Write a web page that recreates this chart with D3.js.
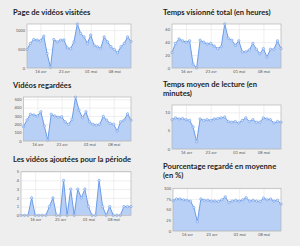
<!DOCTYPE html>
<html>
<head>
<meta charset="utf-8">
<script src="https://cdn.jsdelivr.net/npm/d3@7"></script>
<style>
  body { margin: 0; background: #eeeeee; }
  svg { display: block; }
  .title { font-family: Lato, sans-serif; font-weight: bold; font-size: 7.6px; fill: #1e1e1e; }
  .tick text { font-family: Lato, sans-serif; font-size: 4px; fill: #555; }
</style>
</head>
<body>
<div id="chart"></div>
<script>
// days shown on every chart
var dates = ["2014-04-12", "2014-04-13", "2014-04-14", "2014-04-15", "2014-04-16", "2014-04-17",
  "2014-04-18", "2014-04-19", "2014-04-20", "2014-04-21", "2014-04-22", "2014-04-23",
  "2014-04-24", "2014-04-25", "2014-04-26", "2014-04-27", "2014-04-28", "2014-04-29",
  "2014-04-30", "2014-05-01", "2014-05-02", "2014-05-03", "2014-05-04", "2014-05-05",
  "2014-05-06", "2014-05-07", "2014-05-08", "2014-05-09", "2014-05-10", "2014-05-11",
  "2014-05-12", "2014-05-13"];

var tickDates = ["2014-04-16", "2014-04-23", "2014-05-01", "2014-05-08"];
var tickLabels = ["16 avr", "23 avr", "01 mai", "08 mai"];

var pageViews = [490, 650, 750, 735, 720, 840, 380, 15, 750, 690, 735, 740, 530, 510, 690, 1160,
  910, 820, 650, 870, 600, 560, 520, 820, 690, 560, 490, 400, 560, 650, 820, 700];
var watchHours = [24, 38, 45, 42, 40, 42, 6, 0, 43, 40, 37, 38, 34, 30, 33, 68,
  46, 43, 35, 42, 25, 25, 28, 38, 29, 22, 30, 17, 29, 29, 42, 30];
var videosWatched = [172, 252, 320, 312, 300, 350, 180, 10, 320, 300, 285, 290, 230, 200, 260, 525,
  370, 280, 350, 230, 200, 190, 200, 295, 250, 210, 200, 120, 230, 250, 325, 250];
var avgMinutes = [8.0, 8.5, 8.2, 8.3, 8.0, 7.8, 6.0, 2.0, 8.2, 7.8, 8.0, 7.8, 8.2, 8.3, 8.5, 8.7,
  7.5, 7.3, 7.5, 7.1, 7.8, 8.5, 7.5, 8.0, 7.3, 7.3, 8.5, 8.2, 8.0, 7.1, 7.5, 7.3];
var videosAdded = [0, 0, 0, 2, 0, 0, 0, 0, 1, 2, 0, 0, 4, 0, 3, 0,
  3, 2, 3, 1, 0, 0, 4, 1, 0, 1, 0, 0, 0, 1, 1, 1];
var avgPercent = [71, 75, 75, 73, 72, 70, 55, 22, 75, 72, 72, 70, 70, 69, 73, 80,
  67, 70, 72, 70, 73, 78, 70, 72, 70, 69, 77, 73, 75, 70, 72, 63];

var charts = [
  { title: ["Page de vidéos visitées"], values: pageViews, yMax: 1160, yTicks: [0, 500, 1000],
    tx: 13, ty: 15, x0: 27, x1: 131, y0: 24, y1: 68 },
  { title: ["Temps visionné total (en heures)"], values: watchHours, yMax: 68, yTicks: [0, 20, 40, 60],
    tx: 163, ty: 15, x0: 172, x1: 281, y0: 24, y1: 68 },
  { title: ["Vidéos regardées"], values: videosWatched, yMax: 527, yTicks: [0, 100, 200, 300, 400, 500],
    tx: 13, ty: 88, x0: 23.5, x1: 131, y0: 97, y1: 141 },
  { title: ["Temps moyen de lecture (en", "minutes)"], values: avgMinutes, yMax: 12, yTicks: [0, 5, 10],
    tx: 163, ty: 87, x0: 172, x1: 281, y0: 105, y1: 149 },
  { title: ["Les vidéos ajoutées pour la période"], values: videosAdded, yMax: 5, yTicks: [0, 1, 2, 3, 4, 5],
    tx: 13, ty: 161.5, x0: 21, x1: 131, y0: 171.7, y1: 215.3 },
  { title: ["Pourcentage regardé en moyenne", "(en %)"], values: avgPercent, yMax: 100, yTicks: [0, 25, 50, 75, 100],
    tx: 163, ty: 169, x0: 173, x1: 281, y0: 188.3, y1: 231 }
];

var parseDate = d3.timeParse("%Y-%m-%d");
var days = dates.map(parseDate);
var ticks = tickDates.map(parseDate);

var svg = d3.select("#chart").append("svg")
  .attr("width", 300)
  .attr("height", 246);

charts.forEach(function(c) {
  var x = d3.scaleTime()
    .domain(d3.extent(days))
    .range([c.x0, c.x1]);
  var y = d3.scaleLinear()
    .domain([0, c.yMax])
    .range([c.y1, c.y0]);

  var g = svg.append("g");

  // title, one or two lines
  c.title.forEach(function(t, i) {
    g.append("text")
      .attr("class", "title")
      .attr("x", c.tx)
      .attr("y", c.ty + i * 9)
      .text(t);
  });

  g.append("rect")
    .attr("x", c.x0)
    .attr("y", c.y0)
    .attr("width", c.x1 - c.x0)
    .attr("height", c.y1 - c.y0)
    .attr("fill", "#ffffff");

  // grid
  g.append("g")
    .attr("transform", `translate(0, ${c.y1})`)
    .call(d3.axisBottom(x).tickValues(ticks).tickSize(-(c.y1 - c.y0)).tickFormat("").tickSizeOuter(0))
    .call(s => s.select(".domain").remove())
    .call(s => s.selectAll("line").attr("stroke", "#e4e4e4").attr("stroke-width", 0.6));
  g.append("g")
    .attr("transform", `translate(${c.x0}, 0)`)
    .call(d3.axisLeft(y).tickValues(c.yTicks).tickSize(-(c.x1 - c.x0)).tickFormat("").tickSizeOuter(0))
    .call(s => s.select(".domain").remove())
    .call(s => s.selectAll("line").attr("stroke", "#e4e4e4").attr("stroke-width", 0.6));

  // area + line
  var area = d3.area()
    .x((d, i) => x(days[i]))
    .y0(y(0))
    .y1(d => y(d));
  var line = d3.line()
    .x((d, i) => x(days[i]))
    .y(d => y(d));

  g.append("path")
    .datum(c.values)
    .attr("d", area)
    .attr("fill", "#b9d0f6");
  g.append("path")
    .datum(c.values)
    .attr("d", line)
    .attr("fill", "none")
    .attr("stroke", "#6b9ce9")
    .attr("stroke-width", 1);
  g.selectAll("circle")
    .data(c.values)
    .enter()
    .append("circle")
    .attr("cx", (d, i) => x(days[i]))
    .attr("cy", d => y(d))
    .attr("r", 1.2)
    .attr("fill", "#d8e5fa")
    .attr("stroke", "#6b9ce9")
    .attr("stroke-width", 0.6);

  // frame
  g.append("rect")
    .attr("x", c.x0)
    .attr("y", c.y0)
    .attr("width", c.x1 - c.x0)
    .attr("height", c.y1 - c.y0)
    .attr("fill", "none")
    .attr("stroke", "#b5b5b5")
    .attr("stroke-width", 0.7);

  // axis labels
  g.append("g")
    .attr("transform", `translate(0, ${c.y1})`)
    .call(d3.axisBottom(x).tickValues(ticks).tickSize(0).tickPadding(2.5)
      .tickFormat((d, i) => tickLabels[i]))
    .call(s => s.select(".domain").remove());
  g.append("g")
    .attr("transform", `translate(${c.x0}, 0)`)
    .call(d3.axisLeft(y).tickValues(c.yTicks).tickSize(0).tickPadding(2).tickFormat(d3.format("d")))
    .call(s => s.select(".domain").remove());
});
</script>
</body>
</html>
